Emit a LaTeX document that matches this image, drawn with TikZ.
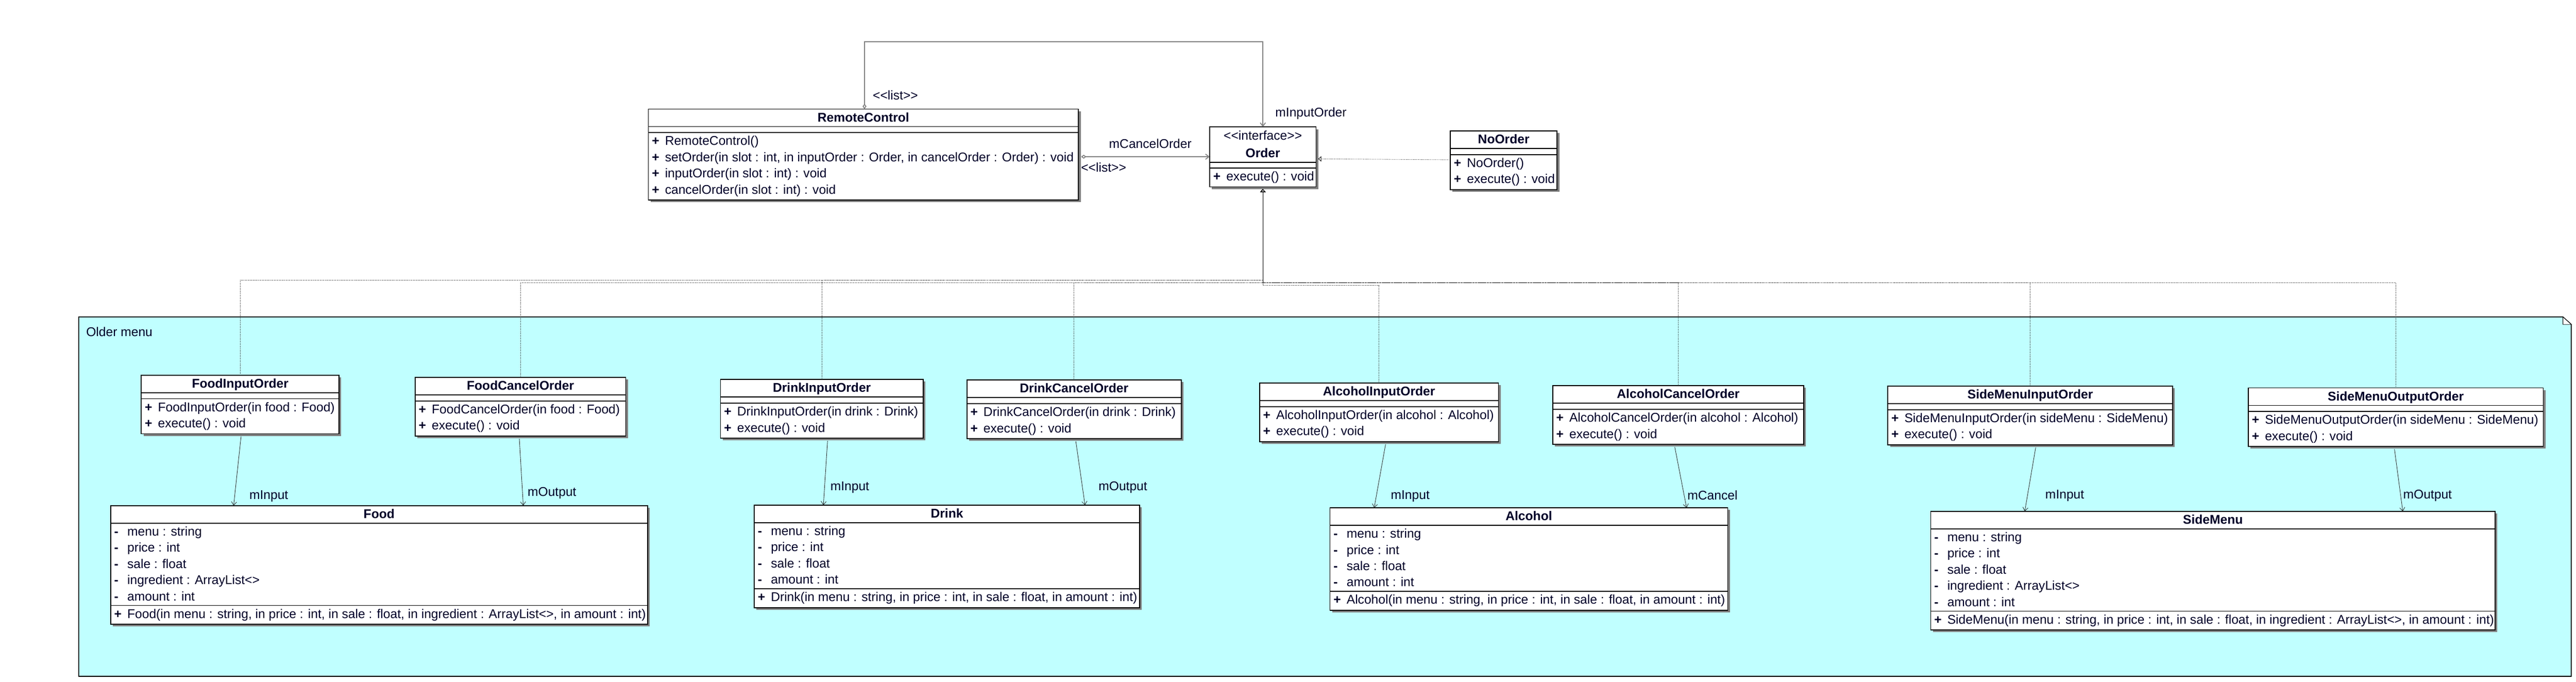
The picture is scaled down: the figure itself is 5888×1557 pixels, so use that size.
\documentclass[tikz,border=0pt]{standalone}
\usepackage{fontspec}
\setmainfont{Liberation Sans}
\usetikzlibrary{arrows.meta,fit,calc}
\definecolor{pkgfill}{RGB}{192,255,255}
\definecolor{txt}{RGB}{0,0,40}
\definecolor{shadowc}{RGB}{128,128,128}
\newcommand\umlfont{\fontsize{14.5pt}{18pt}\selectfont}
\newcommand\lsq{<\kern0pt<}
\newcommand\rsq{>\kern0pt>}
\tikzset{
  every node/.style={font=\umlfont, text=txt, inner sep=0pt, outer sep=0pt},
  boxframe/.style={draw=black, line width=1pt, fill=white, inner sep=0pt},
  sepline/.style={draw=black, line width=1pt},
  rowtext/.style={anchor=base west},
  marker/.style={anchor=base west, font=\umlfont\bfseries},
  titletext/.style={anchor=base, font=\umlfont\bfseries},
  plaintitle/.style={anchor=base},
  lbl/.style={anchor=base west},
  pkgframe/.style={fill=pkgfill, draw=black, line width=1pt},
  realize/.style={draw=black, line width=0.5pt, dash pattern=on 0.5pt off 1pt, -{Triangle[open,length=3.5pt,width=6pt]}},
  inassoc/.style={draw=black!85, line width=0.5pt, -{Straight Barb[length=4pt,width=6pt]}},
  topassoc/.style={draw=gray, line width=1pt, {Diamond[fill=white,length=6pt,width=4.5pt]}-{Straight Barb[length=4pt,width=6pt]}},
}
% class frame: name, x1, x2, ytop, ybottom
\newcommand\classbox[5]{%
  \fill[shadowc] (#2+5,#4+5) rectangle (#3+5,#5+5);
  \coordinate (#1-nw) at (#2,#4);
  \coordinate (#1-se) at (#3,#5);
  \node[boxframe, fit=(#1-nw)(#1-se)] (#1) {};
}
\newcommand\ctitle[3]{\node[titletext] (#1-title) at ($(#1.north)+(0,#2)$) {#3};}
\newcommand\csep[2]{\draw[sepline] ($(#1.north west)+(0,#2)$) -- ($(#1.north east)+(0,#2)$);}
% row: class, row id, baseline offset, marker, text
\newcommand\crow[5]{%
  \node[marker] (#1-#2m) at ($(#1.north west)+(8,#3)$) {#4};
  \node[rowtext] (#1-#2) at ($(#1.north west)+(38,#3)$) {#5};}
% operation class with two methods: name, x1, x2, ytop, title, m1, m2
\newcommand\opclass[7]{%
  \classbox{#1}{#2}{#3}{#4}{#4+134}
  \ctitle{#1}{29}{#5}
  \csep{#1}{40}\csep{#1}{54}
  \crow{#1}{a}{83}{+}{#6}
  \crow{#1}{b}{120}{+}{#7}}
\begin{document}
\begin{tikzpicture}[x=0.5pt,y=-0.5pt]
\useasboundingbox (0,0) rectangle (5888,1557);

% package
\filldraw[pkgframe] (180,724) -- (5858,724) -- (5877,741) -- (5877,1545) -- (180,1545) -- cycle;
\filldraw[fill=white, draw=black, line width=0.5pt] (5858,724) -- (5858,741) -- (5877,741) -- cycle;
\node[lbl] (pkglabel) at (197,768) {Older menu};

% RemoteControl
\classbox{rc}{1482}{2465}{249}{457}
\ctitle{rc}{29}{RemoteControl}
\csep{rc}{40}\csep{rc}{54}
\crow{rc}{a}{83}{+}{RemoteControl()}
\crow{rc}{b}{120}{+}{setOrder(in slot : int, in inputOrder : Order, in cancelOrder : Order) : void}
\crow{rc}{c}{157}{+}{inputOrder(in slot : int) : void}
\crow{rc}{d}{194}{+}{cancelOrder(in slot : int) : void}

% Order
\classbox{order}{2765}{3008}{290}{427}
\node[plaintitle] (order-st) at ($(order.north)+(0,30)$) {\lsq interface\rsq};
\ctitle{order}{70}{Order}
\csep{order}{81}\csep{order}{94}
\crow{order}{a}{123}{+}{execute() : void}

% NoOrder
\opclass{noorder}{3315}{3559}{299}{NoOrder}{NoOrder()}{execute() : void}

% command classes
\opclass{fin}{323}{775}{857}{FoodInputOrder}{FoodInputOrder(in food : Food)}{execute() : void}
\opclass{fcn}{949}{1430}{862}{FoodCancelOrder}{FoodCancelOrder(in food : Food)}{execute() : void}
\opclass{din}{1647}{2110}{867}{DrinkInputOrder}{DrinkInputOrder(in drink : Drink)}{execute() : void}
\opclass{dcn}{2210}{2700}{868}{DrinkCancelOrder}{DrinkCancelOrder(in drink : Drink)}{execute() : void}
\opclass{ain}{2879}{3425}{875}{AlcoholInputOrder}{AlcoholInputOrder(in alcohol : Alcohol)}{execute() : void}
\opclass{acn}{3549}{4123}{881}{AlcoholCancelOrder}{AlcoholCancelOrder(in alcohol : Alcohol)}{execute() : void}
\opclass{sin}{4315}{4966}{882}{SideMenuInputOrder}{SideMenuInputOrder(in sideMenu : SideMenu)}{execute() : void}
\opclass{son}{5139}{5813}{886}{SideMenuOutputOrder}{SideMenuOutputOrder(in sideMenu : SideMenu)}{execute() : void}

% Food
\classbox{food}{253}{1480}{1155}{1426}
\ctitle{food}{29}{Food}
\csep{food}{40}\csep{food}{228}
\crow{food}{a}{69}{-}{menu : string}
\crow{food}{b}{106}{-}{price : int}
\crow{food}{c}{143}{-}{sale : float}
\crow{food}{d}{180}{-}{ingredient : ArrayList<>}
\crow{food}{e}{217}{-}{amount : int}
\crow{food}{f}{257}{+}{Food(in menu : string, in price : int, in sale : float, in ingredient : ArrayList<>, in amount : int)}

% Drink
\classbox{drink}{1724}{2605}{1154}{1388}
\ctitle{drink}{29}{Drink}
\csep{drink}{40}\csep{drink}{191}
\crow{drink}{a}{69}{-}{menu : string}
\crow{drink}{b}{106}{-}{price : int}
\crow{drink}{c}{143}{-}{sale : float}
\crow{drink}{d}{180}{-}{amount : int}
\crow{drink}{f}{220}{+}{Drink(in menu : string, in price : int, in sale : float, in amount : int)}

% Alcohol
\classbox{alc}{3040}{3949}{1160}{1394}
\ctitle{alc}{29}{Alcohol}
\csep{alc}{40}\csep{alc}{191}
\crow{alc}{a}{69}{-}{menu : string}
\crow{alc}{b}{106}{-}{price : int}
\crow{alc}{c}{143}{-}{sale : float}
\crow{alc}{d}{180}{-}{amount : int}
\crow{alc}{f}{220}{+}{Alcohol(in menu : string, in price : int, in sale : float, in amount : int)}

% SideMenu
\classbox{side}{4413}{5703}{1168}{1439}
\ctitle{side}{29}{SideMenu}
\csep{side}{40}\csep{side}{228}
\crow{side}{a}{69}{-}{menu : string}
\crow{side}{b}{106}{-}{price : int}
\crow{side}{c}{143}{-}{sale : float}
\crow{side}{d}{180}{-}{ingredient : ArrayList<>}
\crow{side}{e}{217}{-}{amount : int}
\crow{side}{f}{257}{+}{SideMenu(in menu : string, in price : int, in sale : float, in ingredient : ArrayList<>, in amount : int)}

% associations RemoteControl -> Order
\draw[topassoc] ($(rc.north west)+(494,0)$) |- ($(order.north)+(0,-195)$) -- (order.north);
\node[lbl] (lst1) at (1995,228) {\lsq list\rsq};
\node[lbl] (minorder) at (2915,267) {mInputOrder};
\draw[topassoc] ($(rc.east)+(6,5)$) -- ($(order.west)+(0,-0.5)$);
\node[lbl] (mcanorder) at (2535,338) {mCancelOrder};
\node[lbl] (lst2) at (2471,393) {\lsq list\rsq};

% realizations
\draw[realize] ($(noorder.west)+(0,-1)$) -- ($(order.east)+(5,4.5)$);
\coordinate (bus640) at ($(order.south)+(0,213)$);
\coordinate (bus646) at ($(order.south)+(0,219)$);
\coordinate (bus652) at ($(order.south)+(0,225)$);
\coordinate (otip) at ($(order.south)+(0,5)$);
\draw[realize] (fin.north) |- (bus640) -- (otip);
\draw[realize] (fcn.north) |- (bus646) -- (otip);
\draw[realize] (din.north) |- (bus640) -- (otip);
\draw[realize] (dcn.north) |- (bus646) -- (otip);
\draw[realize] (ain.north) |- (bus652) -- (otip);
\draw[realize] (acn.north) |- (bus646) -- (otip);
\draw[realize] (sin.north) |- (bus646) -- (otip);
\draw[realize] (son.north) |- (bus646) -- (otip);

% associations inside package
\draw[inassoc] ($(fin.south)+(2,6)$) -- ($(food.north west)+(281,0)$);
\node[lbl] (l1) at (570,1140) {mInput};
\draw[inassoc] ($(fcn.south)+(-2.5,6)$) -- ($(food.north west)+(943,0)$);
\node[lbl] (l2) at (1206,1134) {mOutput};
\draw[inassoc] ($(din.south)+(13,6)$) -- ($(drink.north west)+(158,0)$);
\node[lbl] (l3) at (1898,1120) {mInput};
\draw[inassoc] ($(dcn.south)+(4,6)$) -- ($(drink.north west)+(756,0)$);
\node[lbl] (l4) at (2511,1120) {mOutput};
\draw[inassoc] ($(ain.south)+(15,6)$) -- ($(alc.north west)+(101,0)$);
\node[lbl] (l5) at (3179,1140) {mInput};
\draw[inassoc] ($(acn.south)+(-8,6)$) -- ($(alc.north west)+(815,0)$);
\node[lbl] (l6) at (3857,1142) {mCancel};
\draw[inassoc] ($(sin.south)+(12.5,6)$) -- ($(side.north west)+(215,0)$);
\node[lbl] (l7) at (4675,1139) {mInput};
\draw[inassoc] ($(son.south)+(-3,6)$) -- ($(side.north west)+(1079,0)$);
\node[lbl] (l8) at (5493,1139) {mOutput};
\end{tikzpicture}
\end{document}
